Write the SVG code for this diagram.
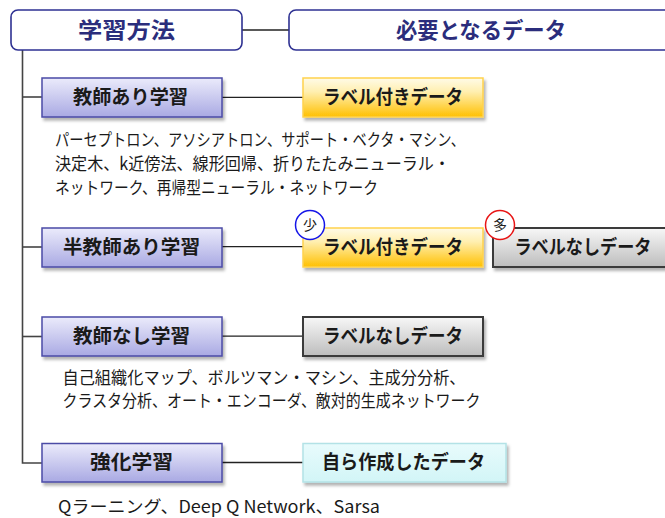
<svg xmlns="http://www.w3.org/2000/svg" width="665" height="518" viewBox="0 0 665 518">
<defs>
<linearGradient id="gLav" x1="0" y1="0" x2="0" y2="1"><stop offset="0" stop-color="#ebebfb"/><stop offset="1" stop-color="#a9a9e3"/></linearGradient>
<linearGradient id="gYel" x1="0" y1="0" x2="0" y2="1"><stop offset="0" stop-color="#fffbe8"/><stop offset="0.35" stop-color="#ffefb0"/><stop offset="1" stop-color="#ffc000"/></linearGradient>
<linearGradient id="gGry" x1="0" y1="0" x2="0" y2="1"><stop offset="0" stop-color="#f7f7f7"/><stop offset="1" stop-color="#bdbdbd"/></linearGradient>
<linearGradient id="gCyn" x1="0" y1="0" x2="0" y2="1"><stop offset="0" stop-color="#e8fbfc"/><stop offset="1" stop-color="#d2f5f7"/></linearGradient>
<filter id="sh" x="-10%" y="-20%" width="125%" height="160%"><feDropShadow dx="2" dy="3" stdDeviation="1.6" flood-color="#000" flood-opacity="0.3"/></filter>
</defs>
<style>
.hdr{fill:#fff;stroke:#2e3192;stroke-width:1.6}
.ht{font-family:"Noto Sans CJK JP","Noto Sans",sans-serif;font-weight:bold;font-size:22px;fill:#2b2d7c;text-anchor:middle}
.lav{fill:url(#gLav);stroke:#4b4ba6;stroke-width:1.5;filter:url(#sh)}
.yel{fill:url(#gYel);stroke:#ffd24d;stroke-width:1.5;filter:url(#sh)}
.gry{fill:url(#gGry);stroke:#3a3a3a;stroke-width:2;filter:url(#sh)}
.cyn{fill:url(#gCyn);stroke:#b3e2e6;stroke-width:1.5;filter:url(#sh)}
.lt{font-family:"Noto Sans CJK JP","Noto Sans",sans-serif;font-weight:bold;font-size:19.5px;fill:#1a1a1a;text-anchor:middle}
.bt{font-family:"Noto Sans CJK JP","Noto Sans",sans-serif;font-size:17px;fill:#1a1a1a}
.cn{fill:none;stroke:#222;stroke-width:1.3}
.tr{fill:none;stroke:#444;stroke-width:1.6}
.ct{font-family:"Noto Sans CJK JP","Noto Sans",sans-serif;font-size:14px;fill:#222;text-anchor:middle}
</style>
<g id="connectors">
<line class="cn" x1="242" y1="30" x2="289" y2="30"/>
<polyline class="tr" points="22.5,50 22.5,463 42,463"/>
<line class="tr" x1="22.5" y1="97" x2="42" y2="97"/>
<line class="tr" x1="22.5" y1="247" x2="42" y2="247"/>
<line class="tr" x1="22.5" y1="336.5" x2="42" y2="336.5"/>
<line class="cn" x1="222" y1="97.3" x2="303" y2="97.3"/>
<line class="cn" x1="222" y1="246.7" x2="303" y2="246.7"/>
<line class="cn" x1="222" y1="336.2" x2="303" y2="336.2"/>
<line class="cn" x1="222" y1="462.5" x2="303" y2="462.5"/>
</g>
<g id="hdr-method">
<rect class="hdr" x="11" y="10" width="231" height="40" rx="7"/>
<text class="ht" x="126.5" y="38" textLength="97" lengthAdjust="spacingAndGlyphs">学習方法</text>
</g>
<g id="hdr-data">
<rect class="hdr" x="289" y="10" width="384" height="40" rx="7"/>
<text class="ht" x="481" y="38" textLength="170" lengthAdjust="spacingAndGlyphs">必要となるデータ</text>
</g>
<g id="supervised">
<rect class="lav" x="42" y="78" width="180" height="39"/>
<text class="lt" x="130.5" y="104" textLength="115" lengthAdjust="spacingAndGlyphs">教師あり学習</text>
</g>
<g id="supervised-data">
<rect class="yel" x="303" y="78" width="180" height="39"/>
<text class="lt" x="393" y="104" textLength="140" lengthAdjust="spacingAndGlyphs">ラベル付きデータ</text>
</g>
<g id="supervised-examples">
<text class="bt" x="55" y="146" textLength="410" lengthAdjust="spacingAndGlyphs">パーセプトロン、アソシアトロン、サポート・ベクタ・マシン、</text>
<text class="bt" x="55" y="170" textLength="395" lengthAdjust="spacingAndGlyphs">決定木、k近傍法、線形回帰、折りたたみニューラル・</text>
<text class="bt" x="55" y="194" textLength="323" lengthAdjust="spacingAndGlyphs">ネットワーク、再帰型ニューラル・ネットワーク</text>
</g>
<g id="semi">
<rect class="lav" x="42" y="228" width="180" height="39"/>
<text class="lt" x="131.5" y="253.5" textLength="137" lengthAdjust="spacingAndGlyphs">半教師あり学習</text>
</g>
<g id="semi-labeled">
<rect class="yel" x="303" y="228" width="180" height="39"/>
<text class="lt" x="393" y="253.5" textLength="140" lengthAdjust="spacingAndGlyphs">ラベル付きデータ</text>
<circle cx="310" cy="225" r="14.5" fill="#fff" stroke="#1515e8" stroke-width="1.5"/>
<text class="ct" x="310" y="230">少</text>
</g>
<g id="semi-unlabeled">
<rect class="gry" x="493" y="228" width="180" height="39"/>
<text class="lt" x="583" y="253.5" textLength="137" lengthAdjust="spacingAndGlyphs">ラベルなしデータ</text>
<circle cx="500" cy="225" r="14.5" fill="#fff" stroke="#e81515" stroke-width="1.5"/>
<text class="ct" x="500" y="230">多</text>
</g>
<g id="unsupervised">
<rect class="lav" x="42" y="317" width="180" height="39"/>
<text class="lt" x="131.5" y="342.5" textLength="117" lengthAdjust="spacingAndGlyphs">教師なし学習</text>
</g>
<g id="unsupervised-data">
<rect class="gry" x="303" y="317" width="180" height="39"/>
<text class="lt" x="393" y="342.5" textLength="140" lengthAdjust="spacingAndGlyphs">ラベルなしデータ</text>
</g>
<g id="unsupervised-examples">
<text class="bt" x="62.5" y="384" textLength="403" lengthAdjust="spacingAndGlyphs">自己組織化マップ、ボルツマン・マシン、主成分分析、</text>
<text class="bt" x="62.5" y="407" textLength="418" lengthAdjust="spacingAndGlyphs">クラスタ分析、オート・エンコーダ、敵対的生成ネットワーク</text>
</g>
<g id="reinforcement">
<rect class="lav" x="42" y="443.5" width="180" height="38.5"/>
<text class="lt" x="131.5" y="469" textLength="83" lengthAdjust="spacingAndGlyphs">強化学習</text>
</g>
<g id="reinforcement-data">
<rect class="cyn" x="303" y="443.5" width="203" height="38.5"/>
<text class="lt" x="403.5" y="469" textLength="163" lengthAdjust="spacingAndGlyphs">自ら作成したデータ</text>
</g>
<g id="reinforcement-examples">
<text class="bt" x="58" y="512.5" textLength="322" lengthAdjust="spacingAndGlyphs">Qラーニング、Deep Q Network、Sarsa</text>
</g>
</svg>
